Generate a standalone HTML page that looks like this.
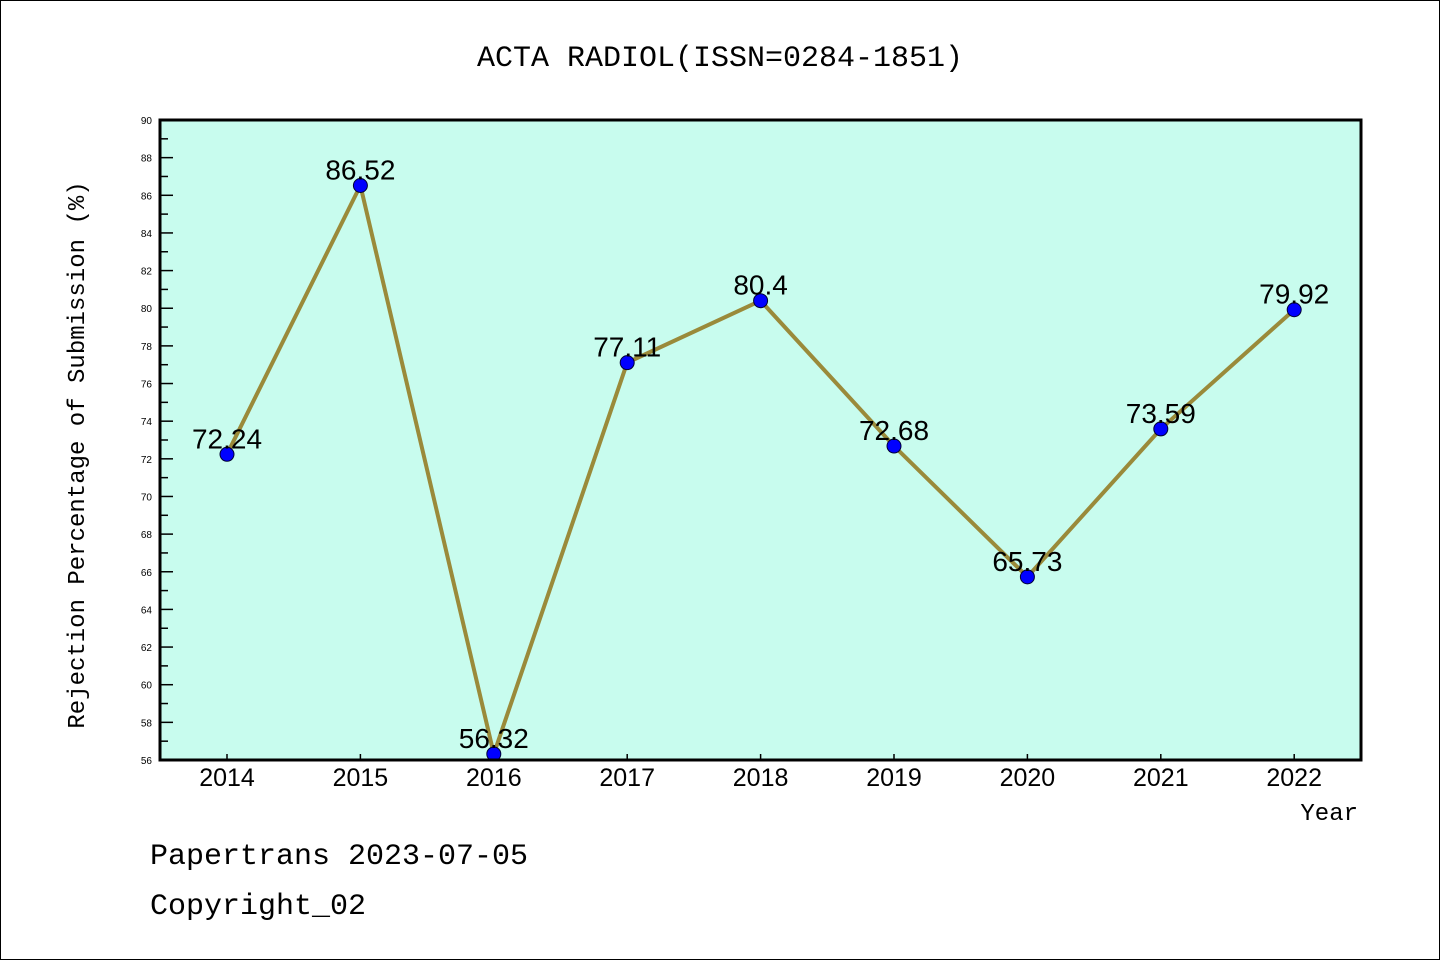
<!DOCTYPE html>
<html><head><meta charset="utf-8"><style>
body{margin:0;background:#fff}
svg text{font-family:"Liberation Mono","DejaVu Sans Mono",monospace}
svg text.s{font-family:"Liberation Sans","DejaVu Sans",sans-serif}
</style></head><body>
<svg width="1440" height="960" xmlns="http://www.w3.org/2000/svg">
<rect x="0.5" y="0.5" width="1439" height="959" fill="#fff" stroke="#000"/>
<text x="720" y="66" font-size="30" text-anchor="middle">ACTA RADIOL(ISSN=0284-1851)</text>
<rect x="160" y="120" width="1201" height="640" fill="#c8fcee"/>
<g id="axes"></g>
<g id="marks"></g>
<rect x="160" y="120" width="1201" height="640" fill="none" stroke="#000" stroke-width="3"/>
<text transform="translate(84,455) rotate(-90)" font-size="24" text-anchor="middle">Rejection Percentage of Submission (%)</text>
<text x="1358" y="820" font-size="24" text-anchor="end">Year</text>
<text x="150" y="864" font-size="30">Papertrans 2023-07-05</text>
<text x="150" y="914" font-size="30">Copyright_02</text>
</svg>
<script>
const years=["2014","2015","2016","2017","2018","2019","2020","2021","2022"];
const values=[72.24,86.52,56.32,77.11,80.4,72.68,65.73,73.59,79.92];
const valueLabels=["72.24","86.52","56.32","77.11","80.4","72.68","65.73","73.59","79.92"];
const yTicks=[56,58,60,62,64,66,68,70,72,74,76,78,80,82,84,86,88,90];
const yMin=56,yMax=90,yTop=120,yBot=760,x0=227,dx=133.4;
const NS="http://www.w3.org/2000/svg";
const Y=v=>yBot-(v-yMin)/(yMax-yMin)*(yBot-yTop);
const X=i=>x0+i*dx;
function mk(t,a,p){const e=document.createElementNS(NS,t);for(const k in a)e.setAttribute(k,a[k]);p.appendChild(e);return e;}
const ax=document.getElementById('axes'),mg=document.getElementById('marks');
yTicks.forEach(v=>{
 const y=Y(v);
 const l=mk('line',{x1:160,x2:173,y1:y,y2:y,stroke:'#000','stroke-width':1.5},ax);
 
 
 if(v<yMax){const m=mk('line',{x1:160,x2:168,y1:Y(v+1),y2:Y(v+1),stroke:'#000','stroke-width':1.5},ax);
 
 }
 const t=mk('text',{x:152,y:y+4,'font-size':10,'text-anchor':'end','class':'s'},ax);t.textContent=v;
 
 
});
years.forEach((yr,i)=>{
 const x=X(i);
 const l=mk('line',{x1:x,x2:x,y1:yBot,y2:yBot-6,stroke:'#000','stroke-width':1.5},ax);
 
 
 const t=mk('text',{x:x,y:786,'font-size':25,'text-anchor':'middle','class':'s'},ax);t.textContent=yr;
 
 
});
const pl=mk('polyline',{points:values.map((v,i)=>X(i)+','+Y(v)).join(' '),fill:'none',stroke:'#9a8a3a','stroke-width':4},mg);


values.forEach((v,i)=>{
 const c=mk('circle',{cx:X(i),cy:Y(v),r:7,fill:'#0000ff',stroke:'#000033','stroke-width':1},mg);
 
 
 const t=mk('text',{x:X(i),y:Y(v)-6,'font-size':28,'text-anchor':'middle','class':'s'},mg);t.textContent=valueLabels[i];
 
 
});
</script>
</body></html>
